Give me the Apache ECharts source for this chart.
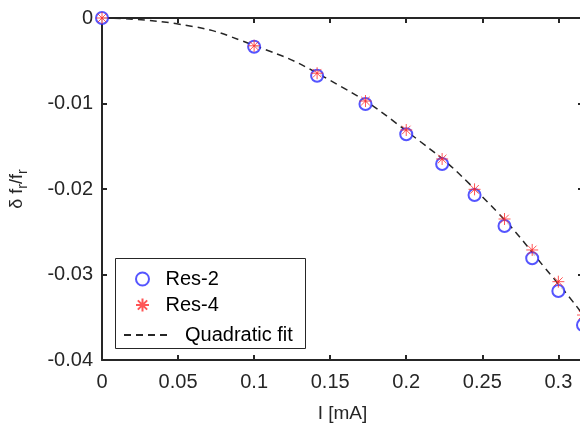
<!DOCTYPE html>
<html>
	<head>
		<meta charset="utf-8" />
		<title>Frequency shift vs current</title>
		<style>
			html, body { margin: 0; padding: 0; background: #fff; }
			#chart { width: 580px; height: 423px; }
		</style>
	</head>
	<body>
		<div id="chart"></div>
		<script src="https://cdn.jsdelivr.net/npm/echarts@6/dist/echarts.min.js"></script>
		<script type="text/javascript">
			// current in mA
			const current = [0, 0.1, 0.1414, 0.1732, 0.2, 0.2236, 0.2449, 0.2646, 0.2828, 0.3, 0.3162];
			const res2 = [0, -0.00336, -0.00675, -0.01006, -0.0136, -0.01708, -0.0207, -0.02433, -0.0281, -0.03193, -0.0359];
			const res4 = [0, -0.00325, -0.00646, -0.00971, -0.0131, -0.01649, -0.02004, -0.02351, -0.02713, -0.03084, -0.03474];
			// dashed fit curve
			const fitCurrent = [0, 0.05, 0.1, 0.15, 0.2, 0.25, 0.3, 0.3162];
			const fitShift = [0, -0.0007, -0.0032, -0.0073, -0.0132, -0.0209, -0.0311, -0.0347];

			const axisColor = '#262626';
			const font = 'Liberation Sans, Arial, Helvetica, sans-serif';
			const star = 'path://M0,-6L0,6M-6,0L6,0M-4.3,-4.3L4.3,4.3M-4.3,4.3L4.3,-4.3';

			const zip = (xs, ys) => xs.map((x, i) => [x, ys[i]]);

			const axisBase = {
				type: 'value',
				axisLine: { show: true, onZero: false, lineStyle: { color: axisColor, width: 2 } },
				axisTick: { show: true, inside: true, length: 5, lineStyle: { color: axisColor, width: 2 } },
				splitLine: { show: false },
			};

			const chart = echarts.init(document.getElementById('chart'));
			chart.setOption({
				animation: false,
				backgroundColor: '#fff',
				grid: { left: 102, top: 18, width: 481, height: 342, containLabel: false, outerBoundsMode: 'none' },
				xAxis: [
					Object.assign({}, axisBase, {
						min: 0, max: 0.3162, interval: 0.05, position: 'bottom',
						axisLabel: { color: axisColor, fontSize: 20, fontFamily: font, margin: 12, showMaxLabel: false },
						name: 'I [mA]', nameLocation: 'middle', nameGap: 44,
						nameTextStyle: { color: axisColor, fontSize: 19, fontFamily: font },
					}),
					Object.assign({}, axisBase, {
						min: 0, max: 0.3162, interval: 0.05, position: 'top', axisLabel: { show: false },
					}),
				],
				yAxis: [
					Object.assign({}, axisBase, {
						min: -0.04, max: 0, interval: 0.01, position: 'left',
						axisLabel: { color: axisColor, fontSize: 20, fontFamily: font, margin: 9 },
						name: '{a|δ f}{s|r}{a|/f}{s|r}', nameLocation: 'middle', nameGap: 72,
						nameTextStyle: {
							rich: {
								a: { color: axisColor, fontSize: 18, fontFamily: font, lineHeight: 26, verticalAlign: 'middle' },
								s: { color: axisColor, fontSize: 14, fontFamily: font, lineHeight: 26, verticalAlign: 'bottom' },
							},
						},
					}),
					Object.assign({}, axisBase, {
						min: -0.04, max: 0, interval: 0.01, position: 'right', axisLabel: { show: false },
					}),
				],
				graphic: [
					{
						type: 'rect', z: 5,
						shape: { x: 115.5, y: 258.5, width: 190, height: 90 },
						style: { fill: '#fff', stroke: axisColor, lineWidth: 1 },
					},
				],
				legend: [
					{
						z: 6, orient: 'vertical', left: 130, top: 264,
						itemWidth: 36, itemHeight: 13, itemGap: 6,
						textStyle: { color: '#000', fontSize: 20, fontFamily: font },
						data: ['Res-2', 'Res-4'],
					},
					{
						z: 6, orient: 'vertical', left: 118, top: 320,
						itemWidth: 46, itemHeight: 14,
						itemStyle: { opacity: 0 },
						textStyle: { color: '#000', fontSize: 20, fontFamily: font, padding: [0, 0, 0, 10] },
						data: ['Quadratic fit'],
					},
				],
				series: [
					{
						name: 'Quadratic fit', type: 'line', smooth: true, showSymbol: false, symbol: 'none',
						lineStyle: { color: axisColor, width: 1.5, type: [7, 5] },
						data: zip(fitCurrent, fitShift), z: 2,
					},
					{
						name: 'Res-2', type: 'scatter', symbol: 'emptyCircle', symbolSize: 12, clip: false,
						itemStyle: { color: '#2a2aff', borderColor: '#2a2aff', borderWidth: 1 },
						data: zip(current, res2), z: 3,
					},
					{
						name: 'Res-4', type: 'scatter', symbol: star, symbolSize: 12, clip: false,
						itemStyle: { color: 'transparent', borderColor: '#ff2a2a', borderWidth: 1 },
						data: zip(current, res4), z: 4,
					},
				],
			});
		</script>
	</body>
</html>
